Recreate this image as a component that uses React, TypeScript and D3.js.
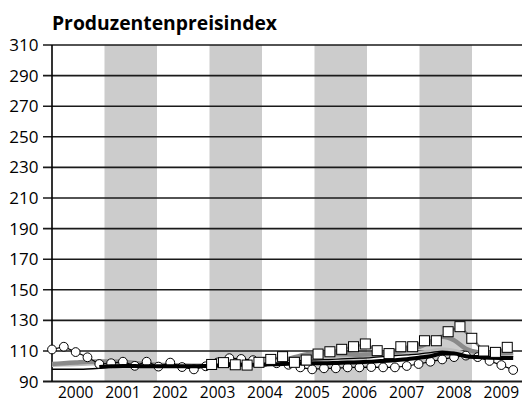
import React from "react";
import * as d3 from "d3";

const W = 522;
const H = 403;

const title = "Produzentenpreisindex";
const yTicks = [90, 110, 130, 150, 170, 190, 210, 230, 250, 270, 290, 310];
const yearLabels = ["2000", "2001", "2002", "2003", "2004", "2005", "2006", "2007", "2008", "2009"];
const shadedYears = [2001, 2003, 2005, 2007];

// quarterly series, 2000 Q1 .. 2009 Q4
const circleStart = 2000;
const circleValues = [
  111, 112.8, 109.3, 105.9,
  101.5, 102, 103, 100.3,
  103, 99.8, 102.4, 99.5,
  98, 100, 102.5, 105.3,
  104.8, 104, 103, 102,
  101, 99.3, 98, 98.7,
  98.7, 99.3, 99.3, 99.5,
  99.3, 99.3, 100.2, 101.5,
  103, 104.5, 106, 107,
  106, 103.5, 100.8, 97.6,
];

const squareStart = 2003.375;
const squareValues = [
  101.2, 102.4, 101, 100.8, 102.6, 104.5, 106.3, 102.6, 104.1, 108, 109.5, 111.1, 112.8,
  114.6, 110.2, 108.3, 112.8, 112.8, 116.7, 116.7, 122.6, 125.9, 118.3, 110, 109.1, 112.4,
];

const lineStart = 2000;
const grayThick = [
  101.5, 102, 102.5, 103,
  103.2, 103.2, 102.8, 102.2,
  101.5, 101, 100.7, 100.5,
  100.4, 100.6, 101, 101.5,
  102, 102.5, 103, 103.8,
  104.8, 107, 108.2, 108.3,
  108, 107.8, 107.6, 107.8,
  108.3, 109.2, 110.5, 112.5,
  116, 119.3, 117, 111.5,
  109.2, 108.6, 108.5, 109,
];

const grayLight = [
  100.5, 100.8, 101, 101.3,
  101.6, 101.8, 101.8, 101.6,
  101.2, 101, 100.8, 100.6,
  100.4, 100.5, 100.8, 101.2,
  101.6, 102, 102.4, 102.8,
  103.4, 104.4, 105, 105.4,
  105.8, 106, 106.2, 106.5,
  107, 107.5, 108, 109,
  110.2, 111.3, 110.5, 108.5,
  107.5, 107.2, 107.2, 107.5,
];

const thinBlackStart = 2000;
const thinBlack = [98, 98, 98.1, 98.3, 98.8, 99.5, 100, 100.2];

const blackThickStart = 2001;
const blackThick = [
  99.6, 100, 100.2, 100.2,
  100, 100, 100, 100,
  100, 100.2, 100.5, 100.8,
  101, 101, 101.2, 101.4,
  101.6, 101.8, 102, 102,
  102.2, 102.5, 102.6, 103,
  103.5, 104, 104.6, 105.6,
  106.6, 108.3, 108.4, 106.6,
  106, 105.6, 105.5, 105.5,
];

const thinBlack2Start = 2004;
const thinBlack2 = [
  102, 102.3, 102.6, 103,
  103.4, 103.8, 104, 104.3,
  104.6, 105, 105.3, 105.7,
  106.3, 107, 107.5, 108,
  109, 109.8, 108.6, 106.8,
  106.4, 106.2, 106.2, 106.4,
];

function toPoints(start: number, values: number[]): [number, number][] {
  return values.map((v, i) => [start + i * 0.25, v]);
}

export default function App() {
  const left = 52;
  const right = 522;
  const top = 45;
  const bottom = 381.6;

  const x = d3.scaleLinear().domain([2000, 2010]).range([left, left + 473]);
  const bx = d3.scaleLinear().domain([2000, 2010]).range([left, left + 525]);
  const y = d3.scaleLinear().domain([90, 310]).range([bottom, top]);

  const smooth = d3
    .line<[number, number]>()
    .x((d) => x(d[0]))
    .y((d) => y(d[1]))
    .curve(d3.curveMonotoneX);
  const straight = d3
    .line<[number, number]>()
    .x((d) => x(d[0]))
    .y((d) => y(d[1]));

  const circles = toPoints(circleStart, circleValues);
  const squares = toPoints(squareStart, squareValues);
  const font = "'Open Sans', 'DejaVu Sans', sans-serif";

  return (
    <svg
      width={W}
      height={H}
      style={{ position: "absolute", left: 0, top: 0, background: "#fff" }}
      fontFamily={font}
    >
      <text x={52} y={30} fontSize={19} fontWeight={700} textLength={225} lengthAdjust="spacingAndGlyphs" fill="#000">
        {title}
      </text>
      {shadedYears.map((yr) => (
        <rect
          key={yr}
          x={bx(yr)}
          y={top}
          width={Math.min(bx(yr + 1), right) - bx(yr)}
          height={bottom - top}
          fill="#cccccc"
        />
      ))}
      {yTicks.map((t) => (
        <g key={t}>
          <line x1={43} x2={right} y1={y(t)} y2={y(t)} stroke="#1a1a1a" strokeWidth={t === 90 ? 2 : 1.6} />
          <text x={38.5} y={y(t)} dy="0.35em" textAnchor="end" fontSize={17} fill="#000">
            {t}
          </text>
        </g>
      ))}
      <line x1={left} x2={left} y1={top} y2={bottom} stroke="#000" strokeWidth={1.6} />
      {yearLabels.map((lab, i) => (
        <text key={lab} x={x(2000 + i + 0.5)} y={398} textAnchor="middle" fontSize={15.5} fill="#000">
          {lab}
        </text>
      ))}
      <path d={smooth(toPoints(lineStart, grayLight)) || ""} fill="none" stroke="#bdbdbd" strokeWidth={3} />
      <path d={smooth(toPoints(lineStart, grayThick)) || ""} fill="none" stroke="#8a8a8a" strokeWidth={4.5} />
      <path d={straight(squares) || ""} fill="none" stroke="#7a7a7a" strokeWidth={2.5} />
      <path d={smooth(toPoints(thinBlack2Start, thinBlack2)) || ""} fill="none" stroke="#000" strokeWidth={1.2} />
      <path d={smooth(toPoints(thinBlackStart, thinBlack)) || ""} fill="none" stroke="#000" strokeWidth={1.5} />
      <path d={straight(circles) || ""} fill="none" stroke="#000" strokeWidth={1.2} />
      {circles.map((d, i) => (
        <circle key={i} cx={x(d[0])} cy={y(d[1])} r={4.4} fill="#fff" stroke="#000" strokeWidth={1} />
      ))}
      <path d={smooth(toPoints(blackThickStart, blackThick)) || ""} fill="none" stroke="#000" strokeWidth={4} />
      {squares.map((d, i) => (
        <rect
          key={i}
          x={x(d[0]) - 5}
          y={y(d[1]) - 5}
          width={10}
          height={10}
          fill="#fff"
          stroke="#000"
          strokeWidth={1}
        />
      ))}
    </svg>
  );
}
